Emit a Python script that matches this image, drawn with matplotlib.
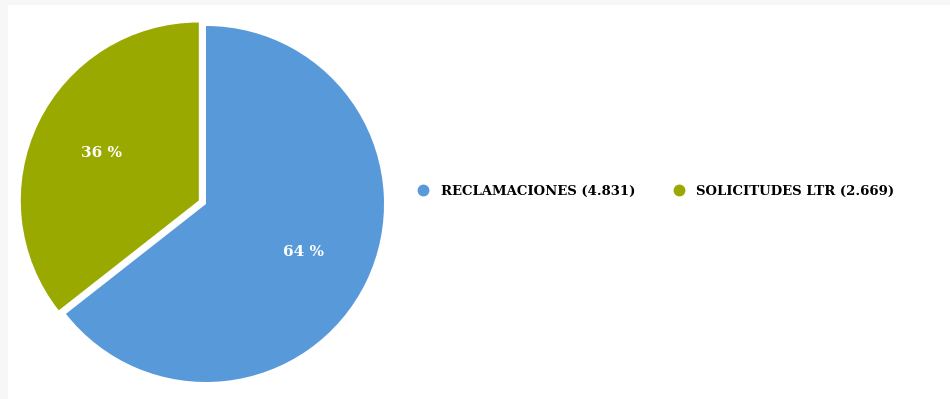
import matplotlib
matplotlib.use("Agg")
import matplotlib.pyplot as plt
from matplotlib.lines import Line2D
from matplotlib.patches import Rectangle

# Requests by type
categories = ["RECLAMACIONES", "SOLICITUDES LTR"]
counts = [4831, 2669]
count_labels = ["4.831", "2.669"]
colors = ["#5899DA", "#9AA900"]

W, H = 950, 399
fig = plt.figure(figsize=(W / 100, H / 100), dpi=100, facecolor="#f7f7f7")

# white card on the grey page
fig.patches.append(Rectangle((8 / W, 0), 1 - 8 / W, 1 - 5 / H,
                             transform=fig.transFigure, facecolor="white",
                             edgecolor="none", zorder=-1))

# axes in pixel units so the pie can be placed directly
ax = fig.add_axes([0, 0, 1, 1])
ax.patch.set_alpha(0)

# explode is in data units here (pixels)
wedges, _, autotexts = ax.pie(
    counts,
    colors=colors,
    center=(206, H - 204),
    radius=178,
    startangle=90,
    counterclock=False,
    explode=(0, 8),
    autopct=lambda p: f"{round(p)} %",
    pctdistance=0.61,
    wedgeprops={"linewidth": 0},
    frame=True,
)
ax.axis("off")
ax.set_xlim(0, W)
ax.set_ylim(0, H)
for t in autotexts:
    t.set_color("white")
    t.set_fontsize(11)
    t.set_fontweight("bold")
    t.set_family("DejaVu Serif")

handles = [Line2D([], [], marker="o", linestyle="none", markersize=7.5,
                  markerfacecolor=c, markeredgecolor=c) for c in colors]
labels = [f"{c} ({n})" for c, n in zip(categories, count_labels)]
fig.legend(handles, labels, loc="center left",
           bbox_to_anchor=(405 / W, 1 - 191 / H), ncol=2, frameon=False,
           handletextpad=0.3, columnspacing=2.35, borderaxespad=0,
           prop={"family": "DejaVu Serif", "weight": "bold", "size": 9.5})

fig.savefig("out.png", dpi=100, facecolor=fig.get_facecolor())
